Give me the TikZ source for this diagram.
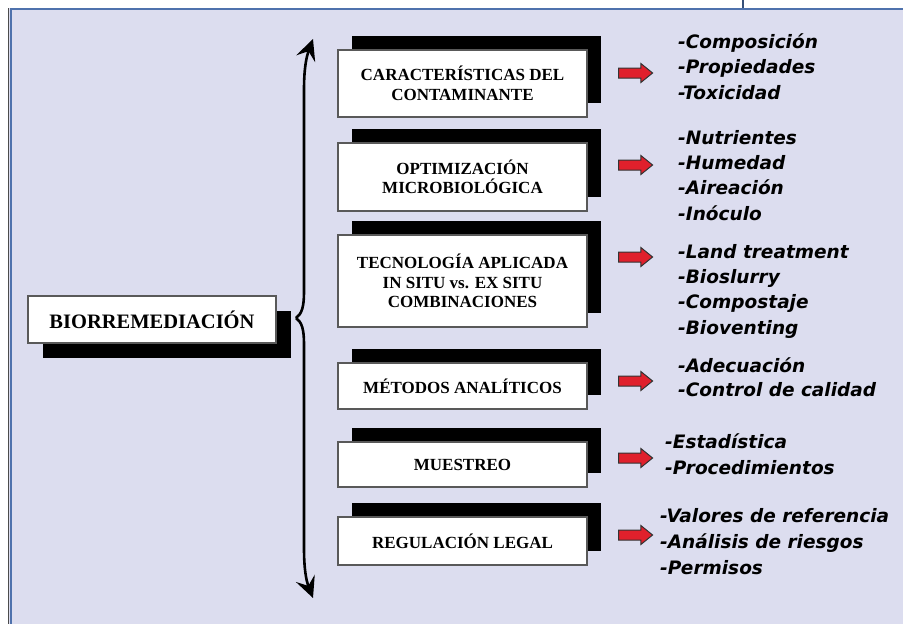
\documentclass[tikz,border=0pt]{standalone}
\usepackage{fontspec}
\setmainfont{Liberation Serif}
\newfontfamily\listfont{DejaVu Sans}
\usepackage{tikz}
\usetikzlibrary{arrows.meta}
\usetikzlibrary{shapes.arrows}
\usetikzlibrary{shadows}
\definecolor{fondo}{HTML}{DCDDEF}
\definecolor{marco}{HTML}{4F72AD}
\definecolor{rojo}{HTML}{E0202C}
\tikzset{caja/.style={draw=black!65, line width=1.5pt, fill=white, minimum width=249pt,
                      align=center, inner sep=0pt, font=\bfseries\fontsize{17}{19.5}\selectfont},
         tema/.style={caja, general shadow={fill=black, draw=none, shadow xshift=14pt, shadow yshift=14pt}},
         raiz/.style={caja, general shadow={fill=black, draw=none, shadow xshift=15pt, shadow yshift=-15pt}},
         flechita/.style={single arrow, draw=black!80, fill=rojo, line width=1pt, inner sep=4.5pt,
                          minimum height=34pt, single arrow head extend=4.5pt, single arrow tip angle=78},
         llave/.style={line width=2.6pt, -{Stealth[length=21pt, width=20pt, inset=8pt]}},
         punto/.style={anchor=base west, inner sep=0pt, font=\listfont\bfseries\itshape\fontsize{18.5}{22}\selectfont}}

\begin{document}
\begin{tikzpicture} [x=1pt, y=-1pt]
\useasboundingbox (0,0) rectangle (903,624);
\fill[fondo] (9,8) rectangle (930,650);
\draw[black!70, line width=1.5pt] (8.5,650) -- (8.5,8);
\draw[marco, line width=2pt] (10.5,650) -- (10.5,8.5) -- (930,8.5);
\draw[marco!70!black, line width=1.2pt] (743,0) -- (743,8);
\node[raiz, minimum width=248pt, minimum height=47pt, font=\bfseries\fontsize{20.5}{22}\selectfont] (bio) at (152,319.5) {BIORREMEDIACIÓN};
\node[tema, minimum height=67pt] (c1) at (462.5,83.5) {CARACTERÍSTICAS DEL\\CONTAMINANTE};
\node[tema, minimum height=68pt] (c2) at (462.5,177) {OPTIMIZACIÓN\\MICROBIOLÓGICA};
\node[tema, minimum height=92pt] (c3) at (462.5,281) {TECNOLOGÍA APLICADA\\IN SITU vs. EX SITU\\COMBINACIONES};
\node[tema, minimum height=46pt] (c4) at (462.5,386) {MÉTODOS ANALÍTICOS};
\node[tema, minimum height=45pt] (c5) at (462.5,464.5) {MUESTREO};
\node[tema, minimum height=48pt] (c6) at (462.5,541) {REGULACIÓN LEGAL};
\coordinate (pico) at (296,318);
\coordinate (arriba) at (313,39);
\coordinate (abajo) at (313,598);
\draw[llave] (pico) .. controls (302,314) and (304,306) .. (304,292) -- (304,90) .. controls (304,70) and (306,58) .. (arriba);
\draw[llave] (pico) .. controls (302,322) and (304,330) .. (304,344) -- (304,548) .. controls (304,568) and (306,580) .. (abajo);
\node[flechita] (f1) at (632.5,73) {};
\node[flechita] (f2) at (632.5,165) {};
\node[flechita] (f3) at (632.5,257) {};
\node[flechita] (f4) at (632.5,381) {};
\node[flechita] (f5) at (632.5,458) {};
\node[flechita] (f6) at (632.5,535) {};
\foreach \t [count=\i] in {-Composición,-Propiedades,-Toxicidad}
  \node[punto] (g1-\i) at (678,{48+25.5*(\i-1)}) {\t};
\foreach \t [count=\i] in {-Nutrientes,-Humedad,-Aireación,-Inóculo}
  \node[punto] (g2-\i) at (678,{144+25.4*(\i-1)}) {\t};
\foreach \t [count=\i] in {-Land treatment,-Bioslurry,-Compostaje,-Bioventing}
  \node[punto] (g3-\i) at (678,{258+25.4*(\i-1)}) {\t};
\foreach \t [count=\i] in {-Adecuación,-Control de calidad}
  \node[punto] (g4-\i) at (678,{372+24.5*(\i-1)}) {\t};
\foreach \t [count=\i] in {-Estadística,-Procedimientos}
  \node[punto] (g5-\i) at (665,{448+26*(\i-1)}) {\t};
\foreach \t [count=\i] in {-Valores de referencia,-Análisis de riesgos,-Permisos}
  \node[punto] (g6-\i) at (660,{522+26*(\i-1)}) {\t};
\end{tikzpicture}
\end{document}
